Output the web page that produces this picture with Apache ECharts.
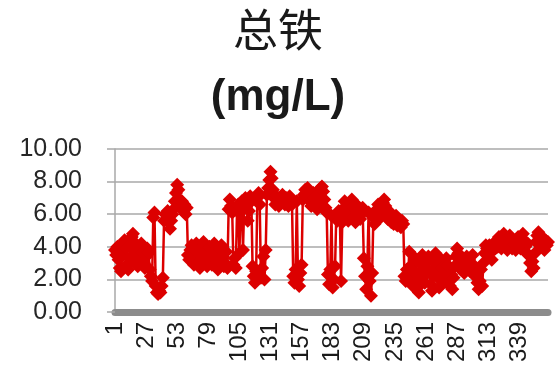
<!DOCTYPE html>
<html>
<head>
<meta charset="utf-8">
<script src="https://cdn.jsdelivr.net/npm/echarts@6/dist/echarts.min.js"></script>
<style>
html,body{margin:0;padding:0;background:#fff;}
#chart{width:556px;height:383px;}
</style>
</head>
<body>
<div id="chart"></div>
<script>
// Title texts
const titleMain = '总铁';
const titleUnit = '(mg/L)';

// Y axis tick values
const yTicks = [0, 2, 4, 6, 8, 10];

// Daily total iron values (mg/L)
const ironValues = [
  3.8, 3.5, 4.0, 3.2, 2.7, 2.5, 3.6, 4.2, 4.4, 3.9, 2.9, 2.6, 3.3, 4.1, 4.6, 4.8, 4.3, 3.7, 3.1, 2.8, 3.5, 4.0, 4.2, 3.6, 3.0, 2.7,
  3.4, 3.9, 3.6, 2.6, 2.2, 1.9, 5.8, 6.1, 1.6, 1.2, 1.1, 1.3, 1.2, 1.6, 2.1, 5.6, 6.0, 5.7, 6.2, 5.5, 5.1, 5.6, 6.0, 6.3, 6.8, 7.3,
  7.8, 7.5, 6.9, 6.4, 6.8, 6.2, 6.6, 6.0, 6.4, 3.5, 3.2, 3.8, 4.1, 3.3, 2.9, 3.6, 4.2, 3.7, 3.1, 2.7, 3.4, 3.9, 4.3, 3.6, 3.0, 2.8,
  3.5, 4.0, 3.3, 2.9, 3.6, 4.2, 3.8, 3.1, 2.6, 3.2, 3.9, 4.1, 3.4, 2.8, 3.0, 3.7, 2.7, 6.3, 6.9, 6.5, 6.1, 2.9, 3.3, 2.7, 6.2, 6.6,
  3.6, 6.4, 6.8, 3.8, 6.5, 7.0, 6.7, 5.6, 6.2, 7.1, 6.8, 2.8, 2.2, 1.8, 2.5, 7.0, 7.3, 6.6, 2.1, 2.7, 3.4, 2.0, 3.8, 7.2, 7.6, 8.1, 8.6,
  8.2, 7.5, 7.0, 6.6, 7.1, 6.8, 6.5, 7.0, 6.7, 7.2, 6.9, 6.6, 7.0, 6.8, 6.5, 7.1, 6.9, 6.6, 2.2, 1.8, 2.6, 6.8, 2.0, 1.6, 2.4, 2.9, 6.9, 7.2, 7.5, 7.3,
  7.6, 7.2, 6.8, 6.5, 6.9, 7.3, 7.0, 6.6, 6.3, 6.7, 7.2, 7.6, 7.7, 7.4, 6.9, 6.4, 6.1, 2.3, 1.7, 2.6, 5.9, 1.5, 2.0, 2.8, 6.0, 5.6, 6.2, 5.8, 1.9, 5.5,
  6.3, 6.8, 6.5, 6.0, 5.6, 6.2, 6.6, 6.9, 6.4, 5.8, 5.5, 6.1, 6.5, 6.2, 5.7, 6.0, 6.4, 3.3, 2.2, 1.4, 2.8, 6.1, 1.9, 1.0, 2.4, 5.8, 5.4, 6.0, 6.3, 6.6,
  6.2, 5.8, 6.4, 6.7, 6.9, 6.5, 6.1, 5.7, 6.2, 5.9, 5.5, 5.8, 5.4, 5.6, 5.9, 5.3, 5.7, 5.5, 5.2, 5.6, 5.4, 2.2, 1.9, 2.6, 2.1, 3.7, 2.8, 2.0, 1.6, 2.5,
  3.3, 2.4, 1.5, 1.2, 2.0, 2.9, 3.5, 2.6, 1.8, 2.3, 3.1, 3.4, 2.5, 1.7, 1.3, 2.2, 3.0, 3.6, 2.8, 2.1, 1.5, 2.4, 3.2, 2.7, 1.9, 2.5, 3.3, 2.9, 2.2, 1.6,
  2.3, 1.4, 2.1, 2.8, 3.4, 3.9, 3.6, 3.1, 2.6, 3.3, 2.9, 2.4, 3.0, 3.4, 2.7, 3.2, 2.5, 3.0, 3.5, 2.8, 2.2, 2.4, 1.8, 1.4, 1.9, 2.6, 1.6, 3.0, 3.6, 4.1,
  3.9, 3.5, 4.1, 3.7, 3.2, 3.8, 4.2, 3.9, 4.4, 4.0, 4.6, 4.3, 3.9, 4.5, 4.8, 4.4, 4.1, 3.8, 4.3, 4.7, 4.2, 3.9, 4.4, 4.1, 3.8, 4.3, 4.6, 4.2, 3.9, 4.5,
  4.8, 4.4, 4.0, 3.6, 4.2, 3.5, 3.0, 2.5, 3.1, 2.7, 3.6, 4.3, 4.7, 4.9, 4.4, 4.0, 4.6, 4.2, 3.8, 4.4, 4.1, 4.3
];

// Category labels: day numbers 1..N
const categories = [];
for (let i = 1; i <= ironValues.length; i++) categories.push(String(i));

const chart = echarts.init(document.getElementById('chart'), null, {renderer: 'canvas'});
const option = {
  animation: false,
  backgroundColor: '#ffffff',
  title: [
    {
      text: titleMain, left: 'center', top: 2,
      textStyle: {fontFamily: '"Noto Sans CJK SC"', fontSize: 45, fontWeight: 'normal', color: '#1a1a1a'}
    },
    {
      text: titleUnit, left: 'center', top: 71,
      textStyle: {fontFamily: '"Liberation Sans", Arial', fontSize: 44, fontWeight: 'bold', color: '#1a1a1a'}
    }
  ],
  grid: {left: 115, right: 8, top: 149, bottom: 71, containLabel: false},
  xAxis: {
    type: 'category',
    data: categories,
    boundaryGap: false,
    offset: 3,
    axisLine: {show: true, lineStyle: {color: '#8c8c8c', width: 7}},
    axisTick: {show: false},
    axisLabel: {
      interval: 25, rotate: 90, margin: 7,
      fontFamily: '"Liberation Sans", Arial', fontSize: 24, color: '#1a1a1a'
    },
    splitLine: {show: false}
  },
  yAxis: {
    type: 'value',
    min: yTicks[0], max: yTicks[yTicks.length - 1], interval: yTicks[1] - yTicks[0],
    axisLine: {show: true, lineStyle: {color: '#a8a8a8', width: 1.5}},
    axisTick: {show: true, length: 8, lineStyle: {color: '#a8a8a8', width: 1.5}},
    axisLabel: {
      margin: 33, formatter: v => v.toFixed(2),
      fontFamily: '"Liberation Sans", Arial', fontSize: 25, color: '#262626'
    },
    splitLine: {show: true, lineStyle: {color: '#a8a8a8', width: 1.5}}
  },
  series: [{
    type: 'line',
    data: ironValues,
    symbol: 'diamond',
    symbolSize: 14,
    showAllSymbol: true,
    lineStyle: {color: '#dc0000', width: 2.5},
    itemStyle: {color: '#dc0000'}
  }]
};
chart.setOption(option);
</script>
</body>
</html>
